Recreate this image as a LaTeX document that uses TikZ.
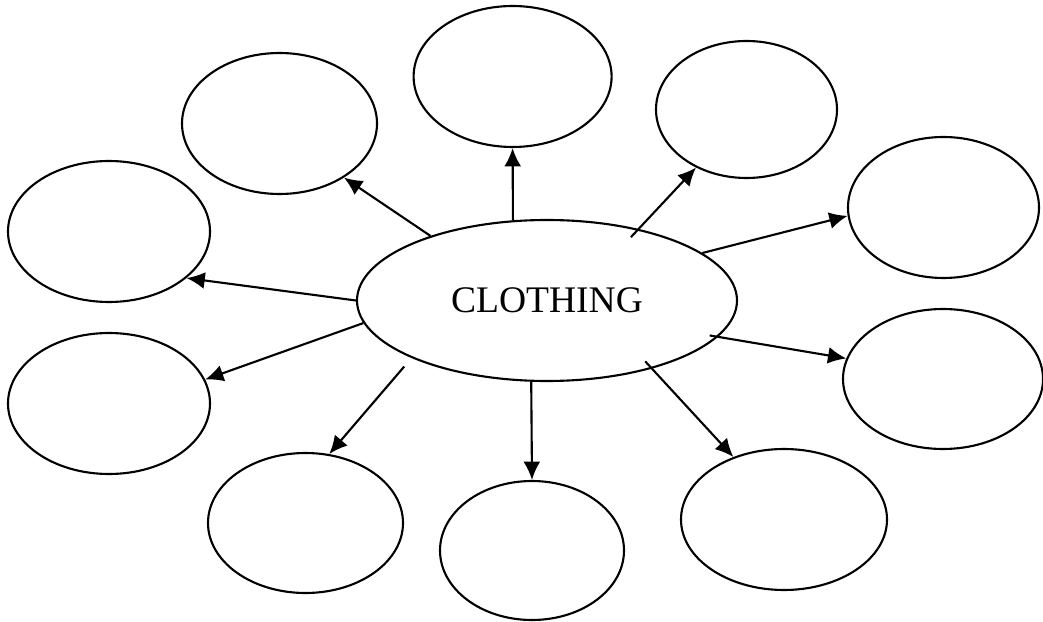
\documentclass[tikz,border=0pt]{standalone}
\usepackage{fontspec}
\setmainfont{Liberation Serif}
\usepackage{tikz}
\usetikzlibrary{arrows.meta,shapes.geometric}

\begin{document}
\begin{tikzpicture}[line width=1.5pt,
  bubble/.style={shape=ellipse,draw,inner sep=0pt},
  link/.style={-{Latex[length=13pt,width=12pt]}}]
\useasboundingbox (0,0) rectangle (26.075,15.525);
% centre
\path (13.675,8.0125) node (clothing) [bubble,minimum width=9.5cm,minimum height=4.025cm] {\fontsize{26.7}{32}\selectfont CLOTHING};
% outer ring
\path (6.9875,12.4375) node (nw) [bubble,minimum width=4.875cm,minimum height=3.525cm] {};
\path (12.815,13.6125) node (n) [bubble,minimum width=4.95cm,minimum height=3.525cm] {};
\path (18.6625,12.7875) node (ne) [bubble,minimum width=4.525cm,minimum height=3.425cm] {};
\path (2.725,9.7375) node (w) [bubble,minimum width=5.05cm,minimum height=3.525cm] {};
\path (23.5875,10.3375) node (e) [bubble,minimum width=4.775cm,minimum height=3.525cm] {};
\path (2.725,5.4375) node (sw) [bubble,minimum width=5.05cm,minimum height=3.525cm] {};
\path (23.575,6.05) node (se) [bubble,minimum width=5cm,minimum height=3.5cm] {};
\path (7.6375,2.45) node (ssw) [bubble,minimum width=4.875cm,minimum height=3.5cm] {};
\path (13.3,1.7625) node (s) [bubble,minimum width=4.6cm,minimum height=3.475cm] {};
\path (19.6,2.5375) node (sse) [bubble,minimum width=5.15cm,minimum height=3.525cm] {};

\draw [link] (clothing.151.9) to (nw.320.3);
\draw [link] (clothing.113.5) to (n.south);
\draw [link,shorten <=-8pt] (clothing.38.1) to (ne.229.8);
\draw [link] (clothing.180) to (w.329.1);
\draw [link] (clothing.17.9) to (e.185.1);
\draw [link] (clothing.187) to (sw.14.9);
\draw [link,shorten <=-6pt] (clothing.348.7) to (se.168.2);
\draw [link,shorten <=8pt] (clothing.203.1) to (ssw.71);
\draw [link] (clothing.259.4) to (s.north);
\draw [link,shorten <=-7pt] (clothing.327.4) to (sse.129.2);
\end{tikzpicture}
\end{document}
